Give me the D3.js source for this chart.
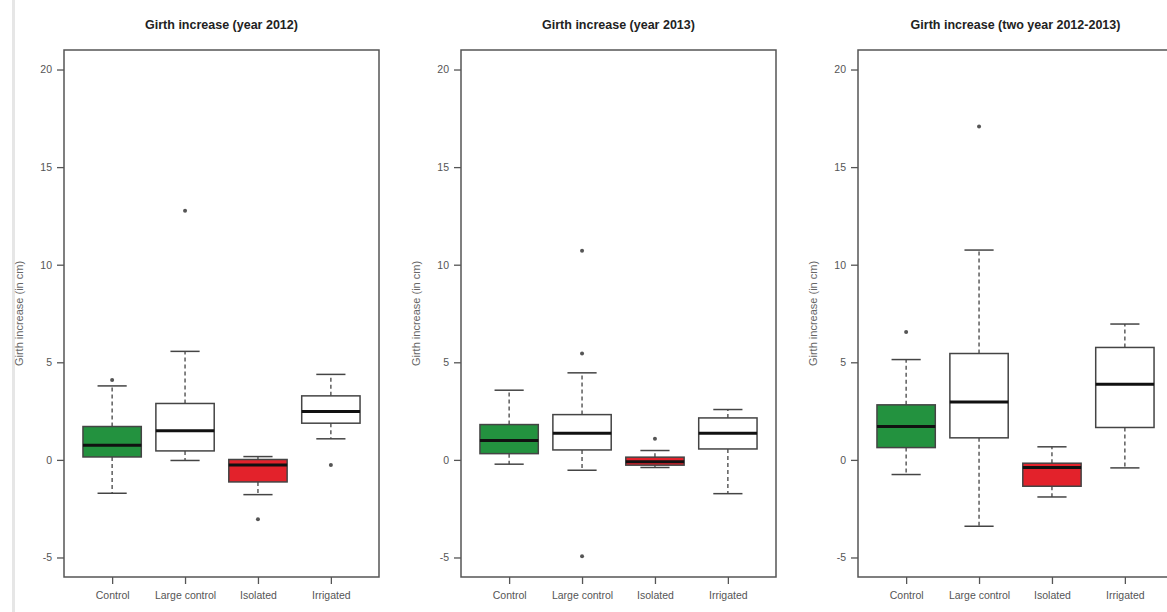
<!DOCTYPE html>
<html><head><meta charset="utf-8">
<script src="https://cdn.jsdelivr.net/npm/d3@7"></script>
<style>body{margin:0;background:#fff}svg{display:block;font-family:"Liberation Sans",Arial,sans-serif}</style>
</head><body><svg id="c" width="1167" height="612"></svg>
<script>
const categories = ["Control","Large control","Isolated","Irrigated"];
const fills = ["#23923f","#ffffff","#e3222b","#ffffff"];
const titles = ["Girth increase (year 2012)","Girth increase (year 2013)","Girth increase (two year 2012-2013)"];
const yTicks = [-5,0,5,10,15,20];
// per panel: [Control, Large control, Isolated, Irrigated]
const whiskerLo = [[-1.71,-0.03,-1.78,1.08],[-0.22,-0.53,-0.39,-1.73],[-0.75,-3.40,-1.90,-0.41]];
const q1 =        [[0.15,0.46,-1.13,1.88],[0.32,0.51,-0.27,0.56],[0.63,1.13,-1.35,1.66]];
const median =    [[0.75,1.49,-0.26,2.48],[0.99,1.37,-0.10,1.37],[1.71,2.97,-0.39,3.88]];
const q3 =        [[1.71,2.89,0.02,3.28],[1.81,2.32,0.14,2.15],[2.82,5.45,-0.17,5.76]];
const whiskerHi = [[3.79,5.56,0.17,4.38],[3.57,4.46,0.48,2.58],[5.14,10.75,0.67,6.96]];
const outliers =  [[[4.09],[12.77],[-3.04],[-0.26]],[[],[5.45,10.72,-4.94],[1.08],[]],[[6.55],[17.08],[],[]]];

const svg = d3.select("#c");
// light grey edge line at left
svg.append("rect").attr("x",12).attr("y",0).attr("width",3).attr("height",612).attr("fill","#e6e6e6");

const panelLeft = [64,461,858], pw = 315, plotTop = 50, plotBottom = 577;
const y = d3.scaleLinear().domain([-6,21]).range([plotBottom,plotTop]);

panelLeft.forEach((L,p)=>{
  const g = svg.append("g");
  const x = d3.scaleLinear().domain([0.34,4.66]).range([L,L+pw]);
  const bw = 0.8*(x(1)-x(0)), cap = bw/2;
  // title
  g.append("text").attr("x",L+pw/2).attr("y",29).attr("text-anchor","middle")
   .attr("font-weight","bold").attr("font-size",12.5).attr("fill","#222").text(titles[p]);
  // y axis label
  g.append("text").attr("transform",`translate(${L-41},${(plotTop+plotBottom)/2}) rotate(-90)`)
   .attr("text-anchor","middle").attr("font-size",11).attr("fill","#666").text("Girth increase (in cm)");
  // axes
  const ya = d3.axisLeft(y).tickValues(yTicks).tickSize(7).tickPadding(5).tickFormat(d=>String(d));
  const yg = g.append("g").attr("transform",`translate(${L},0)`).call(ya);
  const xa = d3.axisBottom(x).tickValues([1,2,3,4]).tickSize(7).tickPadding(8).tickFormat((d,i)=>categories[i]);
  const xg = g.append("g").attr("transform",`translate(0,${plotBottom})`).call(xa);
  [yg,xg].forEach(a=>{a.select(".domain").remove();
    a.selectAll("line").attr("stroke","#555").attr("stroke-width",1.3);
    a.selectAll("text").attr("font-size",10.5).attr("fill","#555").attr("font-family","Liberation Sans, Arial, sans-serif");});
  // frame
  g.append("rect").attr("x",L).attr("y",plotTop).attr("width",pw).attr("height",plotBottom-plotTop)
   .attr("fill","none").attr("stroke","#555").attr("stroke-width",1.5);
  categories.forEach((c,i)=>{
    const cx = x(i+1);
    // whiskers
    g.append("line").attr("x1",cx).attr("x2",cx).attr("y1",y(q3[p][i])).attr("y2",y(whiskerHi[p][i]))
     .attr("stroke","#444").attr("stroke-width",1.3).attr("stroke-dasharray","4,3");
    g.append("line").attr("x1",cx).attr("x2",cx).attr("y1",y(q1[p][i])).attr("y2",y(whiskerLo[p][i]))
     .attr("stroke","#444").attr("stroke-width",1.3).attr("stroke-dasharray","4,3");
    [whiskerHi[p][i],whiskerLo[p][i]].forEach(v=>{
      g.append("line").attr("x1",cx-cap/2).attr("x2",cx+cap/2).attr("y1",y(v)).attr("y2",y(v))
       .attr("stroke","#444").attr("stroke-width",1.5);
    });
    // box
    g.append("rect").attr("x",cx-bw/2).attr("width",bw).attr("y",y(q3[p][i]))
     .attr("height",y(q1[p][i])-y(q3[p][i])).attr("fill",fills[i])
     .attr("stroke","#444").attr("stroke-width",1.5);
    // median
    g.append("line").attr("x1",cx-bw/2).attr("x2",cx+bw/2).attr("y1",y(median[p][i])).attr("y2",y(median[p][i]))
     .attr("stroke","#111").attr("stroke-width",3);
    // outliers
    outliers[p][i].forEach(v=>{
      g.append("circle").attr("cx",cx).attr("cy",y(v)).attr("r",2).attr("fill","#555");
    });
  });
});
</script></body></html>
